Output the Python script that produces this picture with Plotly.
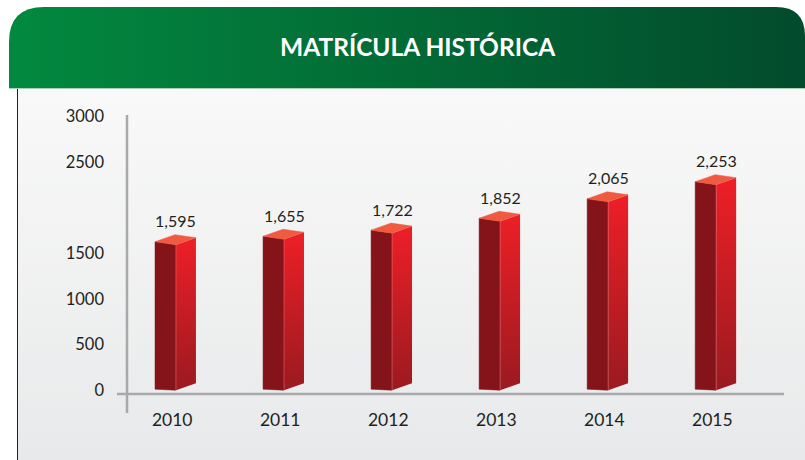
import base64
import plotly.graph_objects as go

# Enrollment by year
years = ["2010", "2011", "2012", "2013", "2014", "2015"]
enrollment = [1595, 1655, 1722, 1852, 2065, 2253]
value_labels = [f"{v:,}" for v in enrollment]

# Y axis ticks as printed on the chart
y_tick_values = [0, 500, 1000, 1500, 2500, 3000]
y_tick_labels = ["0", "500", "1000", "1500", "2500", "3000"]

TITLE = "MATRÍCULA HISTÓRICA"

# Figure geometry (pixels)
FIG_W, FIG_H = 805, 460
M_L, M_R, M_T, M_B = 116, 17, 112, 53
PLOT_W = FIG_W - M_L - M_R
PLOT_H = FIG_H - M_T - M_B
X_RANGE = [-0.52, 5.70]
Y_RANGE = [-184, 3050]


def px_x(px):
    return (px - M_L) / PLOT_W


def px_y(py):
    return (FIG_H - M_B - py) / PLOT_H


# 3D box shape (in axis units): left face, right face, perspective tilts
CORNER_DX = 0.035
FRONT_W = 0.194
SIDE_W = 0.185
FRONT_TILT_TOP = 33
FRONT_TILT_BOT = 11
SIDE_TILT = 77

FRONT_COLOR = "#84141A"
TOP_COLOR = "#F05A40"
SIDE_TOP = "#EE1F27"
SIDE_BOTTOM = "#9A1A20"
TEXT_COLOR = "#231F20"
AXIS_COLOR = "#A7A9AC"
FONT = "Lato"
TEXT_WEIGHT = 400

fig = go.Figure()

for i, v in enumerate(enrollment):
    cx = i + CORNER_DX
    left = cx - FRONT_W
    right = cx + SIDE_W

    # left (front) face
    fig.add_trace(go.Scatter(
        x=[left, cx, cx, left, left],
        y=[FRONT_TILT_BOT, 0, v, v + FRONT_TILT_TOP, FRONT_TILT_BOT],
        mode="lines", fill="toself", fillcolor=FRONT_COLOR,
        line=dict(color=FRONT_COLOR, width=0.5),
        hoverinfo="skip", showlegend=False,
    ))
    # right (side) face with vertical gradient
    fig.add_trace(go.Scatter(
        x=[cx, right, right, cx, cx],
        y=[0, SIDE_TILT, v + SIDE_TILT, v, 0],
        mode="lines", fill="toself",
        fillgradient=dict(type="vertical",
                          colorscale=[[0, SIDE_BOTTOM], [1, SIDE_TOP]]),
        line=dict(color="rgba(0,0,0,0)", width=0),
        hoverinfo="skip", showlegend=False,
    ))
    # light edge at the box corner
    fig.add_trace(go.Scatter(
        x=[cx, cx], y=[0, v],
        mode="lines", line=dict(color="rgba(235,140,140,0.55)", width=0.8),
        hoverinfo="skip", showlegend=False,
    ))
    # top face
    back_x = left + SIDE_W
    fig.add_trace(go.Scatter(
        x=[left, cx, right, back_x, left],
        y=[v + FRONT_TILT_TOP, v, v + SIDE_TILT,
           v + FRONT_TILT_TOP + SIDE_TILT, v + FRONT_TILT_TOP],
        mode="lines", fill="toself", fillcolor=TOP_COLOR,
        line=dict(color=TOP_COLOR, width=0.5),
        hoverinfo="skip", showlegend=False,
    ))
    # value label above the box
    fig.add_annotation(
        x=cx, y=v, xref="x", yref="y", text=value_labels[i],
        showarrow=False, yanchor="middle", yshift=24,
        font=dict(family=FONT, size=16, weight=TEXT_WEIGHT, color=TEXT_COLOR),
    )

# Background: green header band and light grey panel
bg_svg = f"""<svg xmlns="http://www.w3.org/2000/svg" width="{FIG_W}" height="{FIG_H}" viewBox="0 0 {FIG_W} {FIG_H}">
<defs>
<linearGradient id="hdr" x1="0" y1="0" x2="1" y2="0">
<stop offset="0" stop-color="#02893F"/><stop offset="1" stop-color="#024B2C"/>
</linearGradient>
<linearGradient id="pnl" x1="0" y1="0" x2="0" y2="1">
<stop offset="0" stop-color="#F9F9F9"/><stop offset="1" stop-color="#E8E9EA"/>
</linearGradient>
</defs>
<rect width="{FIG_W}" height="{FIG_H}" fill="#FFFFFF"/>
<rect x="17" y="88" width="{FIG_W - 17}" height="{FIG_H - 88}" fill="url(#pnl)"/>
<line x1="17.5" y1="88" x2="17.5" y2="{FIG_H}" stroke="#231F20" stroke-width="1"/>
<path d="M9,88 V42 Q9,7 44,7 H776 Q805,7 805,36 V88 Z" fill="url(#hdr)"/>
<line x1="9" y1="88.5" x2="{FIG_W}" y2="88.5" stroke="#A9D3B9" stroke-width="1"/>
</svg>"""
bg_src = "data:image/svg+xml;base64," + base64.b64encode(bg_svg.encode("utf-8")).decode("ascii")

fig.add_layout_image(dict(
    source=bg_src, xref="paper", yref="paper",
    x=px_x(0), y=px_y(0), sizex=FIG_W / PLOT_W, sizey=FIG_H / PLOT_H,
    xanchor="left", yanchor="top", sizing="stretch", layer="below",
))

# Axis lines crossing at the origin
fig.add_shape(type="line", xref="paper", yref="paper",
              x0=px_x(127), x1=px_x(127), y0=px_y(115), y1=px_y(413),
              line=dict(color=AXIS_COLOR, width=2.5))
fig.add_shape(type="line", xref="paper", yref="paper",
              x0=px_x(117), x1=px_x(784), y0=px_y(394), y1=px_y(394),
              line=dict(color=AXIS_COLOR, width=2.5))

fig.add_annotation(
    x=px_x(418), y=px_y(47), xref="paper", yref="paper",
    text=f"<b>{TITLE}</b>", showarrow=False,
    xanchor="center", yanchor="middle",
    font=dict(family=FONT, size=24.5, color="#FFFFFF"),
)

fig.update_layout(
    width=FIG_W, height=FIG_H,
    margin=dict(l=M_L, r=M_R, t=M_T, b=M_B, pad=0),
    paper_bgcolor="rgba(0,0,0,0)", plot_bgcolor="rgba(0,0,0,0)",
    showlegend=False,
    xaxis=dict(
        range=X_RANGE, tickmode="array", tickvals=list(range(len(years))),
        ticktext=years, showgrid=False, zeroline=False, showline=False,
        ticks="", tickfont=dict(family=FONT, size=17.5, weight=TEXT_WEIGHT, color=TEXT_COLOR),
        fixedrange=True,
    ),
    yaxis=dict(
        range=Y_RANGE, tickmode="array", tickvals=y_tick_values,
        ticktext=y_tick_labels, showgrid=False, zeroline=False, showline=False,
        ticks="", ticklabelstandoff=11,
        tickfont=dict(family=FONT, size=16.5, weight=TEXT_WEIGHT, color=TEXT_COLOR),
        fixedrange=True,
    ),
)

fig.write_html("out.html")
